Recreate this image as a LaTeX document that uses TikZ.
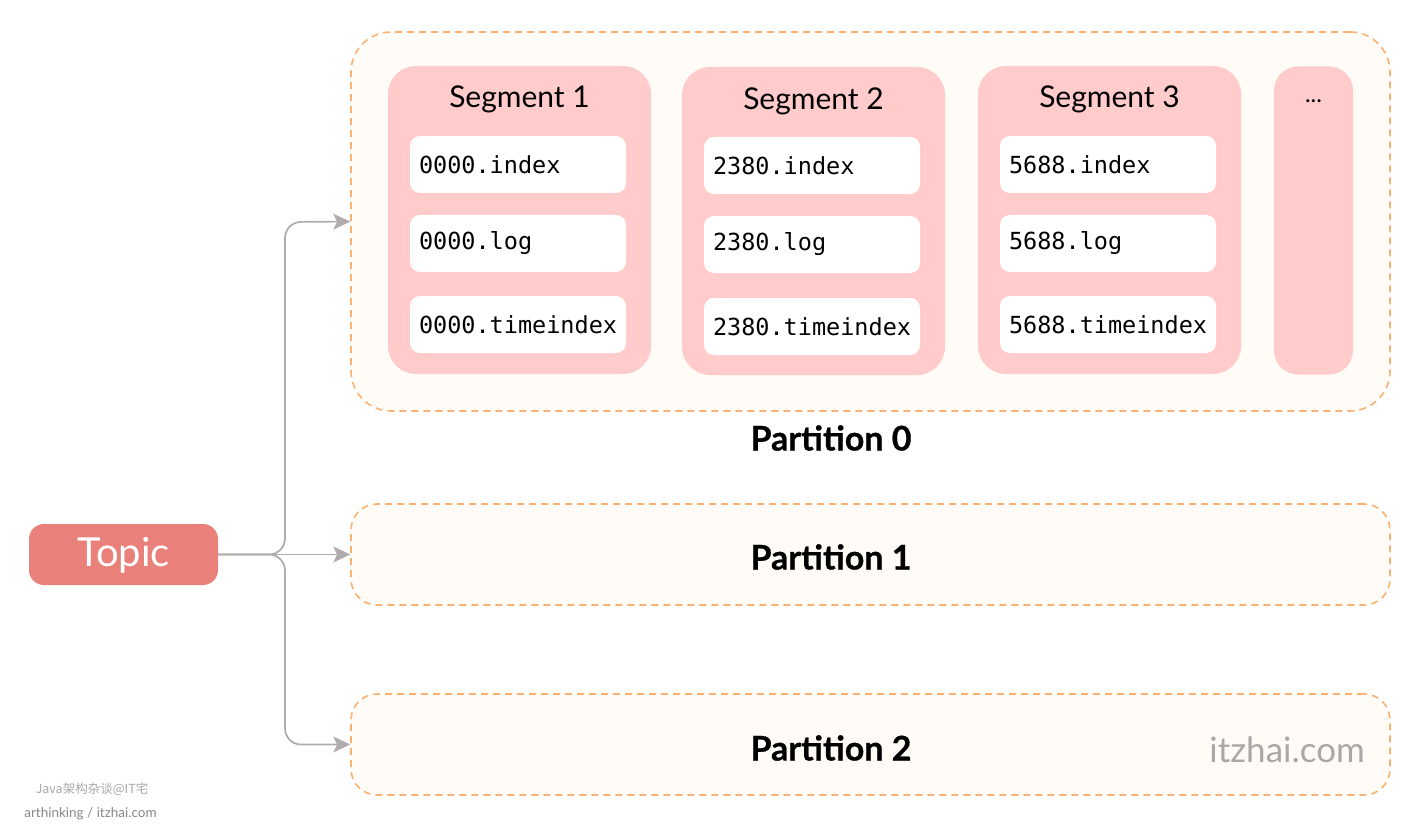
\documentclass[tikz,border=0pt]{standalone}
\usepackage{fontspec}
\setmainfont{Lato}
\setmonofont{DejaVu Sans Mono}
\newfontfamily\cjkfont{Noto Sans CJK SC}
\newfontfamily\heavyfont{Lato}[FakeBold=0.7]
\usetikzlibrary{arrows.meta}
\definecolor{dashorange}{HTML}{F9B272}
\definecolor{partfill}{HTML}{FFFBF6}
\definecolor{segfill}{HTML}{FFCCCB}
\definecolor{topicfill}{HTML}{E9807A}
\definecolor{conngray}{HTML}{B0ACAC}
\definecolor{marktext}{HTML}{ABA7A7}
\tikzset{
  partbox/.style={draw=dashorange, fill=partfill, line width=1.6pt, dash pattern=on 7pt off 5pt, inner sep=0pt},
  segbox/.style={fill=segfill, rounded corners=28pt, inner sep=0pt, minimum width=263pt, minimum height=308pt},
  filebox/.style={fill=white, rounded corners=10pt, inner xsep=9pt, inner ysep=0pt, text width=198pt, align=left, minimum height=57pt, font=\ttfamily\fontsize{23.5}{26}\selectfont},
  segtitle/.style={font=\fontsize{30}{34}\selectfont, inner sep=0pt},
  parttitle/.style={font=\heavyfont\bfseries\fontsize{34}{38}\selectfont, inner sep=0pt},
  conn/.style={draw=conngray, line width=1.7pt, -{Stealth[length=17pt,width=16pt,inset=4pt]}},
}
\begin{document}
\begin{tikzpicture}[x=1pt,y=-1pt]
\useasboundingbox[fill=white] (0,0) rectangle (1420,826);
% partitions
\node[partbox, rounded corners=40pt, minimum width=1039pt, minimum height=379pt] (p0) at (870.5,221.5) {};
\node[partbox, rounded corners=26pt, minimum width=1039pt, minimum height=101pt] (p1) at (870.5,554.5) {};
\node[partbox, rounded corners=26pt, minimum width=1039pt, minimum height=101pt] (p2) at (870.5,744.5) {};
\node[parttitle] (l0) at (831,438) {Partition 0};
\node[parttitle] (l1) at (831,557) {Partition 1};
\node[parttitle] (l2) at (831,748) {Partition 2};
\node[font=\fontsize{35}{40}\selectfont, text=marktext, anchor=east, inner sep=0pt] (site) at (1365,750) {itzhai.com};
% segments
\node[segbox] (s1) at (519.5,220) {};
\node[segbox] (s2) at (813.5,221) {};
\node[segbox] (s3) at (1109.5,220) {};
\node[segbox, minimum width=79pt, rounded corners=24pt] (s4) at (1313.5,220.5) {};
\node[segtitle] (t1) at (519.5,99) {Segment 1};
\node[segtitle] (t2) at (813.5,101) {Segment 2};
\node[segtitle] (t3) at (1109.5,99) {Segment 3};
\node[segtitle, font=\fontsize{24}{28}\selectfont] (t4) at (1313.5,101) {...};
% files
\node[filebox] (f11) at (518,164.5) {0000.index};
\node[filebox] (f12) at (518,243.5) {0000.log};
\node[filebox] (f13) at (518,324.5) {0000.timeindex};
\node[filebox] (f21) at (812,165.5) {2380.index};
\node[filebox] (f22) at (812,244.5) {2380.log};
\node[filebox] (f23) at (812,326.5) {2380.timeindex};
\node[filebox] (f31) at (1108,164.5) {5688.index};
\node[filebox] (f32) at (1108,243.5) {5688.log};
\node[filebox] (f33) at (1108,324.5) {5688.timeindex};
% topic
\node[fill=topicfill, rounded corners=15pt, minimum width=189pt, minimum height=61pt, inner sep=0pt, text height=29pt, text depth=5pt, text=white, font=\fontsize{40}{44}\selectfont] (topic) at (123.5,554.5) {Topic};
% connectors
\draw[conn, rounded corners=16pt] (topic.east) -- (285,554.5) -- (285,222) -- (p0.west);
\draw[conn] (topic.east) -- (p1.west);
\draw[conn, rounded corners=16pt] (topic.east) -- (285,554.5) -- (285,744.5) -- (p2.west);
% watermark
\node[text=marktext, font=\cjkfont\fontsize{12.5}{14}\selectfont, inner sep=0pt] (wm1) at (92,789) {Java架构杂谈@IT宅};
\node[text=marktext!80!black, font=\fontsize{13.5}{16}\selectfont, inner sep=0pt] (wm2) at (90.5,814) {arthinking / itzhai.com};
\end{tikzpicture}
\end{document}
